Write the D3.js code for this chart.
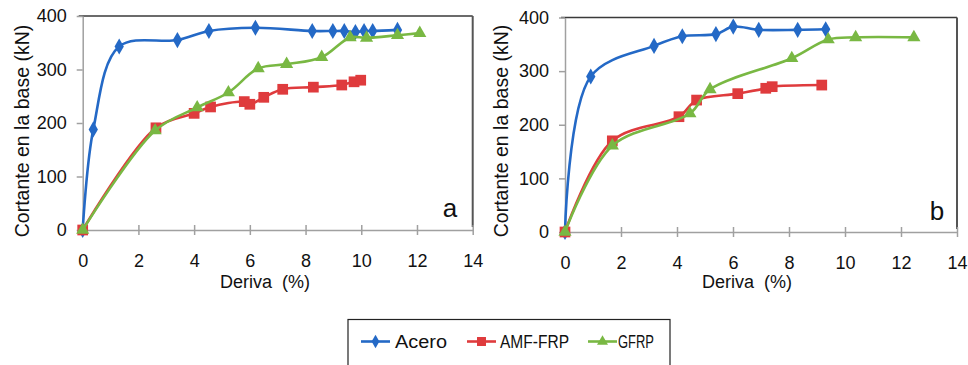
<!DOCTYPE html>
<html>
<head>
<meta charset="utf-8">
<script src="https://cdn.jsdelivr.net/npm/d3@7"></script>
<style>
  html, body { margin: 0; padding: 0; background: #fff; }
  svg { display: block; }
  text { font-family: "Liberation Sans", Arial, sans-serif; fill: #111; }
</style>
</head>
<body>
<svg id="chart" width="968" height="365"></svg>
<script>
// ---- data ----
const seriesNames = ["Acero", "AMF-FRP", "GFRP"];
const xTicks = [0, 2, 4, 6, 8, 10, 12, 14];
const yTicks = [0, 100, 200, 300, 400];
const xLabel = "Deriva  (%)";
const yLabel = "Cortante en la base (kN)";
const panelLabels = ["a", "b"];

// panel a
const aceroA = [[0,0],[0.38,188],[1.31,343],[3.4,355],[4.53,372],[6.2,378],[8.24,372],[8.98,372],[9.39,372],[9.79,370],[10.1,372],[10.41,372],[11.3,374]];
const amfA   = [[0,0],[2.63,191],[4.0,218],[4.59,230],[5.8,240],[6.0,235],[6.5,248],[7.18,263],[8.28,267],[9.3,271],[9.74,277],[9.98,280]];
const gfrpA  = [[0,0],[2.6,186],[4.11,229],[5.23,257],[6.3,302],[7.32,310],[8.58,323],[9.6,360],[10.19,359],[11.3,364],[12.1,368]];

// panel b
const aceroB = [[0,0],[0.92,290],[3.18,347],[4.19,365],[5.39,369],[6.01,383],[6.92,377],[8.31,377],[9.31,378]];
const amfB   = [[0,0],[1.69,170],[4.07,215],[4.7,246],[6.17,258],[7.17,268],[7.4,271],[9.17,274]];
const gfrpB  = [[0,0],[1.69,161],[4.46,221],[5.18,266],[8.1,324],[9.4,359],[10.38,363],[12.46,363]];

// ---- styling ----
const colors = ["#2469c6", "#df3b3d", "#79b843"];
const symbols = [d3.symbolDiamond, d3.symbolSquare, d3.symbolTriangle];
const symSizes = [75, 115, 75];

const svg = d3.select("#chart");

const panels = [
  { data: [aceroA, amfA, gfrpA], x0: 82.7, x1: 472.7, y0: 230, y1: 16, label: panelLabels[0],
    labX: 450, labY: 217, yTitleX: 29, xTitleX: 265 },
  { data: [aceroB, amfB, gfrpB], x0: 565, x1: 957, y0: 232, y1: 17.5, label: panelLabels[1],
    labX: 937, labY: 220, yTitleX: 508, xTitleX: 747 }
];

panels.forEach(p => {
  const x = d3.scaleLinear().domain([0, 14]).range([p.x0, p.x1]);
  const y = d3.scaleLinear().domain([0, 400]).range([p.y0, p.y1]);
  const g = svg.append("g");

  // frame top & right
  g.append("line").attr("x1", p.x0 - 4).attr("x2", p.x1).attr("y1", p.y1).attr("y2", p.y1)
    .attr("stroke", "#3a3a3a").attr("stroke-width", 1.5);
  g.append("line").attr("x1", p.x1).attr("x2", p.x1).attr("y1", p.y1).attr("y2", p.y0 - 3)
    .attr("stroke", "#555").attr("stroke-width", 2);

  // y axis
  const ya = g.append("g").attr("transform", `translate(${p.x0},0)`)
    .call(d3.axisLeft(y).tickValues(yTicks).tickSize(6).tickSizeOuter(0));
  ya.select(".domain").attr("stroke", "#a0a0a0").attr("stroke-width", 1.5);
  ya.selectAll(".tick line").attr("stroke", "#a0a0a0").attr("stroke-width", 1.5);
  ya.selectAll(".tick text").attr("x", -16).attr("font-size", 18)
    .style("font-family", '"Liberation Sans", Arial, sans-serif').attr("fill", "#111");

  // x axis
  const xa = g.append("g").attr("transform", `translate(0,${p.y0})`)
    .call(d3.axisBottom(x).tickValues(xTicks).tickSize(5).tickSizeOuter(0));
  xa.select(".domain").attr("stroke", "#a0a0a0").attr("stroke-width", 1.5);
  xa.selectAll(".tick line").attr("y1", -5).attr("y2", 5).attr("stroke", "#a0a0a0").attr("stroke-width", 1.5);
  xa.selectAll(".tick text").attr("y", 24).attr("font-size", 18)
    .style("font-family", '"Liberation Sans", Arial, sans-serif').attr("fill", "#111");

  // axis titles
  g.append("text").attr("transform", `translate(${p.yTitleX},131) rotate(-90)`)
    .attr("text-anchor", "middle").attr("font-size", 19.5).text(yLabel);
  g.append("text").attr("x", p.xTitleX).attr("y", 288).attr("text-anchor", "middle")
    .attr("font-size", 18).style("white-space", "pre").text(xLabel);

  // panel letter
  g.append("text").attr("x", p.labX).attr("y", p.labY).attr("text-anchor", "middle")
    .attr("font-size", 26).text(p.label);

  // series
  const line = d3.line().x(d => x(d[0])).y(d => y(d[1])).curve(d3.curveCatmullRom.alpha(0.5));
  p.data.forEach((s, i) => {
    g.append("path").datum(s).attr("d", line).attr("fill", "none")
      .attr("stroke", colors[i]).attr("stroke-width", 2.6);
    g.append("g").selectAll("path").data(s).join("path")
      .attr("transform", d => `translate(${x(d[0])},${y(d[1])})`)
      .attr("d", d3.symbol().type(symbols[i]).size(symSizes[i]))
      .attr("fill", colors[i]);
  });
});

// legend
const leg = svg.append("g");
leg.append("rect").attr("x", 348).attr("y", 319.5).attr("width", 322).attr("height", 60)
  .attr("fill", "#fff").attr("stroke", "#222").attr("stroke-width", 1.2);
const legItems = [
  { lx: 361, tx: 395, tl: 52 },
  { lx: 467, tx: 500, tl: 69 },
  { lx: 588, tx: 618, tl: 36 }
];
seriesNames.forEach((n, i) => {
  const it = legItems[i];
  leg.append("line").attr("x1", it.lx).attr("x2", it.lx + 29).attr("y1", 341.5).attr("y2", 341.5)
    .attr("stroke", colors[i]).attr("stroke-width", 2.6);
  leg.append("path").attr("transform", `translate(${it.lx + 14.5},341.5)`)
    .attr("d", d3.symbol().type(symbols[i]).size(symSizes[i] * 0.7)).attr("fill", colors[i]);
  leg.append("text").attr("x", it.tx).attr("y", 347.5).attr("font-size", 18)
    .attr("textLength", it.tl).attr("lengthAdjust", "spacingAndGlyphs").text(n);
});
</script>
</body>
</html>
